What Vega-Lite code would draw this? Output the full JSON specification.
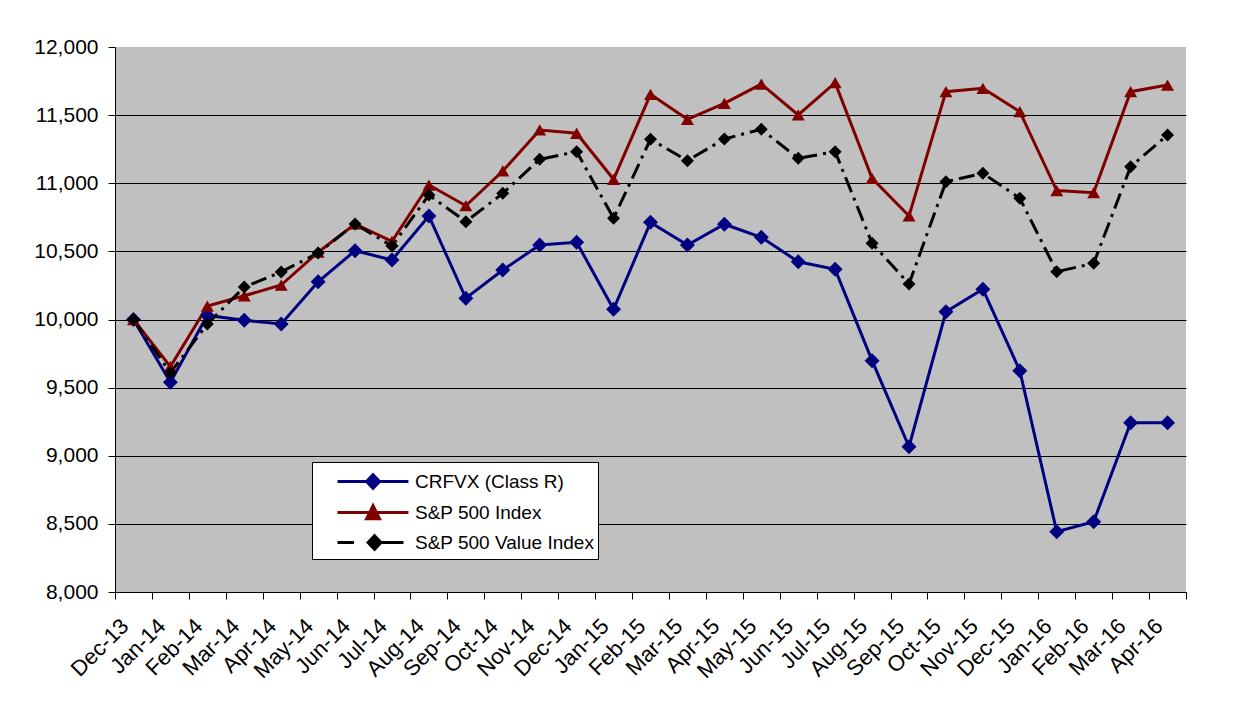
{
  "$schema": "https://vega.github.io/schema/vega-lite/v6.json",
  "width": 1071,
  "height": 545,
  "autosize": {"type": "none"},
  "padding": {"left": 115, "top": 47, "right": 57, "bottom": 132},
  "background": "white",
  "config": {
    "view": {"fill": "#C0C0C0", "stroke": null},
    "font": "Liberation Sans"
  },
  "data": {
    "values": [
      {"month": "Dec-13", "series": "CRFVX (Class R)", "value": 10000},
      {"month": "Jan-14", "series": "CRFVX (Class R)", "value": 9540},
      {"month": "Feb-14", "series": "CRFVX (Class R)", "value": 10030},
      {"month": "Mar-14", "series": "CRFVX (Class R)", "value": 9995},
      {"month": "Apr-14", "series": "CRFVX (Class R)", "value": 9967},
      {"month": "May-14", "series": "CRFVX (Class R)", "value": 10277},
      {"month": "Jun-14", "series": "CRFVX (Class R)", "value": 10505},
      {"month": "Jul-14", "series": "CRFVX (Class R)", "value": 10437},
      {"month": "Aug-14", "series": "CRFVX (Class R)", "value": 10760},
      {"month": "Sep-14", "series": "CRFVX (Class R)", "value": 10156},
      {"month": "Oct-14", "series": "CRFVX (Class R)", "value": 10363},
      {"month": "Nov-14", "series": "CRFVX (Class R)", "value": 10547},
      {"month": "Dec-14", "series": "CRFVX (Class R)", "value": 10567},
      {"month": "Jan-15", "series": "CRFVX (Class R)", "value": 10075},
      {"month": "Feb-15", "series": "CRFVX (Class R)", "value": 10713},
      {"month": "Mar-15", "series": "CRFVX (Class R)", "value": 10547},
      {"month": "Apr-15", "series": "CRFVX (Class R)", "value": 10699},
      {"month": "May-15", "series": "CRFVX (Class R)", "value": 10603},
      {"month": "Jun-15", "series": "CRFVX (Class R)", "value": 10424},
      {"month": "Jul-15", "series": "CRFVX (Class R)", "value": 10368},
      {"month": "Aug-15", "series": "CRFVX (Class R)", "value": 9698},
      {"month": "Sep-15", "series": "CRFVX (Class R)", "value": 9066},
      {"month": "Oct-15", "series": "CRFVX (Class R)", "value": 10057},
      {"month": "Nov-15", "series": "CRFVX (Class R)", "value": 10222},
      {"month": "Dec-15", "series": "CRFVX (Class R)", "value": 9624},
      {"month": "Jan-16", "series": "CRFVX (Class R)", "value": 8443},
      {"month": "Feb-16", "series": "CRFVX (Class R)", "value": 8516},
      {"month": "Mar-16", "series": "CRFVX (Class R)", "value": 9243},
      {"month": "Apr-16", "series": "CRFVX (Class R)", "value": 9243},
      {"month": "Dec-13", "series": "S&P 500 Index", "value": 10000},
      {"month": "Jan-14", "series": "S&P 500 Index", "value": 9654},
      {"month": "Feb-14", "series": "S&P 500 Index", "value": 10099},
      {"month": "Mar-14", "series": "S&P 500 Index", "value": 10174},
      {"month": "Apr-14", "series": "S&P 500 Index", "value": 10253},
      {"month": "May-14", "series": "S&P 500 Index", "value": 10494},
      {"month": "Jun-14", "series": "S&P 500 Index", "value": 10701},
      {"month": "Jul-14", "series": "S&P 500 Index", "value": 10573},
      {"month": "Aug-14", "series": "S&P 500 Index", "value": 10987},
      {"month": "Sep-14", "series": "S&P 500 Index", "value": 10835},
      {"month": "Oct-14", "series": "S&P 500 Index", "value": 11090},
      {"month": "Nov-14", "series": "S&P 500 Index", "value": 11391},
      {"month": "Dec-14", "series": "S&P 500 Index", "value": 11367},
      {"month": "Jan-15", "series": "S&P 500 Index", "value": 11029},
      {"month": "Feb-15", "series": "S&P 500 Index", "value": 11653},
      {"month": "Mar-15", "series": "S&P 500 Index", "value": 11469},
      {"month": "Apr-15", "series": "S&P 500 Index", "value": 11587},
      {"month": "May-15", "series": "S&P 500 Index", "value": 11728},
      {"month": "Jun-15", "series": "S&P 500 Index", "value": 11501},
      {"month": "Jul-15", "series": "S&P 500 Index", "value": 11738},
      {"month": "Aug-15", "series": "S&P 500 Index", "value": 11036},
      {"month": "Sep-15", "series": "S&P 500 Index", "value": 10760},
      {"month": "Oct-15", "series": "S&P 500 Index", "value": 11672},
      {"month": "Nov-15", "series": "S&P 500 Index", "value": 11697},
      {"month": "Dec-15", "series": "S&P 500 Index", "value": 11525},
      {"month": "Jan-16", "series": "S&P 500 Index", "value": 10946},
      {"month": "Feb-16", "series": "S&P 500 Index", "value": 10931},
      {"month": "Mar-16", "series": "S&P 500 Index", "value": 11672},
      {"month": "Apr-16", "series": "S&P 500 Index", "value": 11721},
      {"month": "Dec-13", "series": "S&P 500 Value Index", "value": 10000},
      {"month": "Jan-14", "series": "S&P 500 Value Index", "value": 9609},
      {"month": "Feb-14", "series": "S&P 500 Value Index", "value": 9967},
      {"month": "Mar-14", "series": "S&P 500 Value Index", "value": 10238},
      {"month": "Apr-14", "series": "S&P 500 Value Index", "value": 10349},
      {"month": "May-14", "series": "S&P 500 Value Index", "value": 10488},
      {"month": "Jun-14", "series": "S&P 500 Value Index", "value": 10701},
      {"month": "Jul-14", "series": "S&P 500 Value Index", "value": 10539},
      {"month": "Aug-14", "series": "S&P 500 Value Index", "value": 10914},
      {"month": "Sep-14", "series": "S&P 500 Value Index", "value": 10718},
      {"month": "Oct-14", "series": "S&P 500 Value Index", "value": 10926},
      {"month": "Nov-14", "series": "S&P 500 Value Index", "value": 11176},
      {"month": "Dec-14", "series": "S&P 500 Value Index", "value": 11232},
      {"month": "Jan-15", "series": "S&P 500 Value Index", "value": 10743},
      {"month": "Feb-15", "series": "S&P 500 Value Index", "value": 11323},
      {"month": "Mar-15", "series": "S&P 500 Value Index", "value": 11166},
      {"month": "Apr-15", "series": "S&P 500 Value Index", "value": 11325},
      {"month": "May-15", "series": "S&P 500 Value Index", "value": 11396},
      {"month": "Jun-15", "series": "S&P 500 Value Index", "value": 11183},
      {"month": "Jul-15", "series": "S&P 500 Value Index", "value": 11232},
      {"month": "Aug-15", "series": "S&P 500 Value Index", "value": 10559},
      {"month": "Sep-15", "series": "S&P 500 Value Index", "value": 10261},
      {"month": "Oct-15", "series": "S&P 500 Value Index", "value": 11011},
      {"month": "Nov-15", "series": "S&P 500 Value Index", "value": 11073},
      {"month": "Dec-15", "series": "S&P 500 Value Index", "value": 10890},
      {"month": "Jan-16", "series": "S&P 500 Value Index", "value": 10351},
      {"month": "Feb-16", "series": "S&P 500 Value Index", "value": 10412},
      {"month": "Mar-16", "series": "S&P 500 Value Index", "value": 11122},
      {"month": "Apr-16", "series": "S&P 500 Value Index", "value": 11354}
    ]
  },
  "encoding": {
    "x": {
      "field": "month",
      "type": "ordinal",
      "sort": null,
      "scale": {"type": "band", "paddingInner": 0, "paddingOuter": 0},
      "axis": {
        "title": null,
        "tickBand": "extent",
        "labelAngle": -45,
        "labelAlign": "right",
        "labelBaseline": "top",
        "labelOffset": -16,
        "labelPadding": 16,
        "labelFontSize": 22,
        "labelColor": "black",
        "labelFont": "Liberation Sans",
        "tickSize": 7,
        "tickColor": "black",
        "domainColor": "black",
        "domainWidth": 1,
        "grid": false
      }
    },
    "y": {
      "field": "value",
      "type": "quantitative",
      "scale": {"domain": [8000, 12000], "nice": false, "zero": false},
      "axis": {
        "title": null,
        "values": [8000, 8500, 9000, 9500, 10000, 10500, 11000, 11500, 12000],
        "format": ",d",
        "labelFontSize": 21,
        "labelColor": "black",
        "labelFont": "Liberation Sans",
        "labelPadding": 10,
        "tickSize": 7,
        "tickColor": "black",
        "domainColor": "black",
        "domainWidth": 1,
        "grid": true,
        "gridColor": "black",
        "gridWidth": 1,
        "gridOpacity": {"condition": {"test": "datum.value === 12000", "value": 0}, "value": 1}
      }
    }
  },
  "layer": [
    {
      "transform": [{"filter": "datum.series !== 'S&P 500 Value Index'"}],
      "mark": {"type": "line", "strokeWidth": 3},
      "encoding": {
        "color": {
          "field": "series",
          "type": "nominal",
          "scale": {
            "domain": ["CRFVX (Class R)", "S&P 500 Index", "S&P 500 Value Index"],
            "range": ["#000080", "#800000", "#000000"]
          },
          "legend": {
            "orient": "none",
            "legendX": 197,
            "legendY": 415,
            "title": null,
            "fillColor": "white",
            "strokeColor": "black",
            "padding": 3,
            "symbolSize": 900,
            "labelOffset": 67,
            "labelLimit": 400,
            "rowPadding": 1,
            "labelFontSize": 19,
            "labelFont": "Liberation Sans",
            "labelColor": "black",
            "encode": {
              "symbols": {
                "update": {
                  "shape": {"signal": "datum.value === 'CRFVX (Class R)' ? 'M0.4,0H5.13M2.77,-0.45L3.2,0L2.77,0.45L2.34,0Z' : datum.value === 'S&P 500 Index' ? 'M0.4,0H5.13M2.77,-0.45L3.2,0.42L2.34,0.42Z' : 'M0.4,0H1.5M3.2,0H4.8M2.87,-0.45L3.3,0L2.87,0.45L2.44,0Z'"},
                  "fill": {"signal": "datum.value === 'CRFVX (Class R)' ? '#000080' : datum.value === 'S&P 500 Index' ? '#800000' : '#000000'"},
                  "stroke": {"signal": "datum.value === 'CRFVX (Class R)' ? '#000080' : datum.value === 'S&P 500 Index' ? '#800000' : '#000000'"},
                  "strokeWidth": {"value": 3},
                  "opacity": {"value": 1},
                  "fillOpacity": {"value": 1}
                }
              }
            }
          }
        }
      }
    },
    {
      "transform": [{"filter": "datum.series === 'S&P 500 Value Index'"}],
      "mark": {"type": "line", "strokeWidth": 3, "color": "#000000", "strokeDash": [16, 6, 3, 6]},
      "encoding": {}
    },
    {
      "transform": [{"filter": "datum.series === 'CRFVX (Class R)'"}],
      "mark": {"type": "point", "filled": true, "opacity": 1, "shape": "diamond", "size": 225, "color": "#000080"}
    },
    {
      "transform": [{"filter": "datum.series === 'S&P 500 Index'"}],
      "mark": {"type": "point", "filled": true, "opacity": 1, "shape": "triangle-up", "size": 169, "color": "#800000"}
    },
    {
      "transform": [{"filter": "datum.series === 'S&P 500 Value Index'"}],
      "mark": {"type": "point", "filled": true, "opacity": 1, "shape": "diamond", "size": 169, "color": "#000000"}
    }
  ]
}
